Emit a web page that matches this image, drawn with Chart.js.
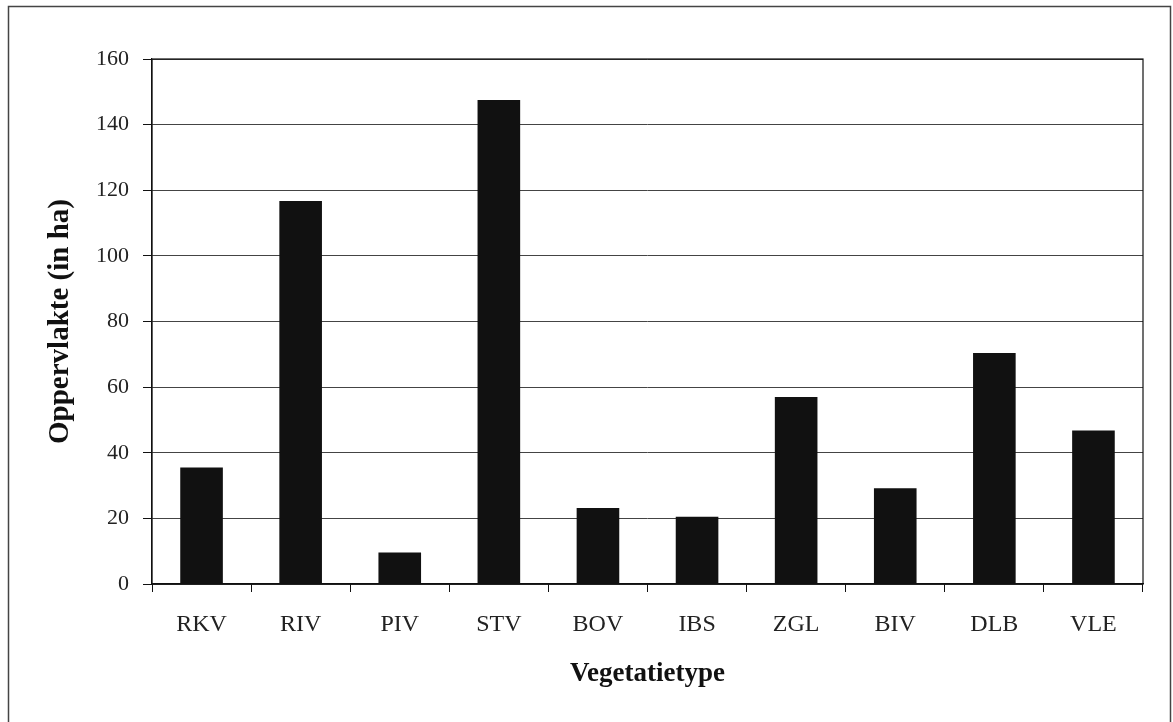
<!DOCTYPE html>
<html>
<head>
<meta charset="utf-8">
<script src="https://cdn.jsdelivr.net/npm/chart.js@4/dist/chart.umd.min.js"></script>
<style>
  body { margin: 0; background: #fff; }
  canvas { display: block; }
</style>
</head>
<body>
<canvas id="barChart" width="1173" height="722"></canvas>
<script>
const categories = ["RKV", "RIV", "PIV", "STV", "BOV", "IBS", "ZGL", "BIV", "DLB", "VLE"];
const oppervlakte = [35.5, 116.7, 9.6, 147.5, 23.2, 20.5, 57, 29.2, 70.4, 46.8];
const yTicks = [0, 20, 40, 60, 80, 100, 120, 140, 160];

const serif = '"Liberation Serif", "Times New Roman", serif';

// frame round the whole picture and the box round the plot
const frames = {
  id: "frames",
  afterDraw(chart) {
    const ctx = chart.ctx;
    const a = chart.chartArea;
    ctx.save();
    ctx.strokeStyle = "#444";
    ctx.lineWidth = 1.5;
    ctx.strokeRect(8.5, 6.5, 1162, 740);
    ctx.strokeStyle = "#111";
    ctx.lineWidth = 1.2;
    ctx.strokeRect(a.left, a.top, a.right - a.left, a.bottom - a.top);
    ctx.restore();
  }
};

new Chart(document.getElementById("barChart"), {
  type: "bar",
  data: {
    labels: categories,
    datasets: [{
      data: oppervlakte,
      backgroundColor: "#111",
      borderWidth: 0,
      categoryPercentage: 1,
      barPercentage: 0.43
    }]
  },
  options: {
    responsive: false,
    animation: false,
    devicePixelRatio: 1,
    layout: { padding: { top: 59, right: 30, bottom: 0, left: 0 } },
    plugins: { legend: { display: false }, tooltip: { enabled: false } },
    scales: {
      y: {
        min: 0,
        max: 160,
        afterFit(scale) { scale.width = 152; },
        afterBuildTicks(scale) { scale.ticks = yTicks.map(v => ({ value: v })); },
        border: { display: true, color: "#111", width: 1.2 },
        grid: { color: "#444", lineWidth: 1, tickLength: 9, tickColor: "#111" },
        ticks: { color: "#222", padding: 14, font: { family: serif, size: 22 } },
        title: {
          display: true,
          text: "Oppervlakte (in ha)",
          color: "#111",
          padding: { top: 43 },
          font: { family: serif, size: 29, weight: "bold" }
        }
      },
      x: {
        afterFit(scale) { scale.height = 138; },
        border: { display: true, color: "#111", width: 1.2 },
        grid: { drawOnChartArea: false, offset: true, tickLength: 8, tickColor: "#111" },
        ticks: { color: "#222", padding: 18, font: { family: serif, size: 24 } },
        title: {
          display: true,
          text: "Vegetatietype",
          color: "#111",
          padding: { bottom: 32 },
          font: { family: serif, size: 27, weight: "bold" }
        }
      }
    }
  },
  plugins: [frames]
});
</script>
</body>
</html>
